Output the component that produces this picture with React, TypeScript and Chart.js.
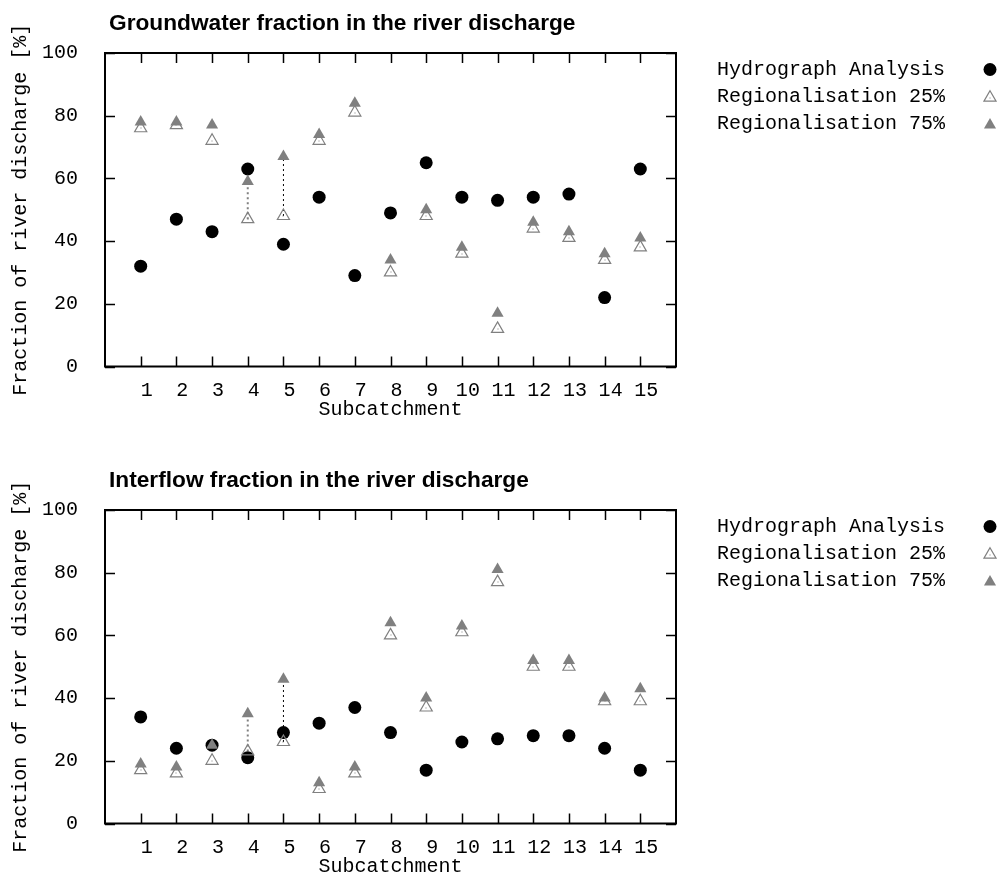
import React, { useEffect, useRef } from 'react';
import { Chart, registerables } from 'chart.js';

Chart.register(...registerables);

// ---------- data ----------
const subcatchments = [1, 2, 3, 4, 5, 6, 7, 8, 9, 10, 11, 12, 13, 14, 15];
const xTickValues = [1, 2, 3, 4, 5, 6, 7, 8, 9, 10, 11, 12, 13, 14, 15];
const yTickValues = [0, 20, 40, 60, 80, 100];
const seriesLabels = ['Hydrograph Analysis', 'Regionalisation 25%', 'Regionalisation 75%'];

const groundwaterTitle = 'Groundwater fraction in the river discharge';
const gwHydrograph = [32, 47, 43, 63, 39, 54, 29, 49, 65, 54, 53, 54, 55, 22, 63];
const gwReg25 = [76, 77, 72, 47, 48, 72, 81, 30, 48, 36, 12, 44, 41, 34, 38];
const gwReg75 = [78, 78, 77, 59, 67, 74, 84, 34, 50, 38, 17, 46, 43, 36, 41];

const interflowTitle = 'Interflow fraction in the river discharge';
const ifHydrograph = [34, 24, 25, 21, 29, 32, 37, 29, 17, 26, 27, 28, 28, 24, 17];
const ifReg25 = [17, 16, 20, 23, 26, 11, 16, 60, 37, 61, 77, 50, 50, 39, 39];
const ifReg75 = [19, 18, 25, 35, 46, 13, 18, 64, 40, 63, 81, 52, 52, 40, 43];

// subcatchments whose 25%-75% range is marked by a dotted line
const rangeCatchments = [4, 5];

// ---------- styling ----------
const MONO = '"Liberation Mono", "Courier New", monospace';
const SANS = '"Liberation Sans", Arial, sans-serif';
const GREY = '#808080';
const rangeLineColors = [GREY, '#000000'];
const rangeLineWidths = [2, 1];

const W = 1002;
const H = 458;

function drawMarker(ctx: CanvasRenderingContext2D, style: string, x: number, y: number, r: number, fill: string | null, stroke: string | null, lw: number) {
  ctx.beginPath();
  if (style === 'circle') {
    ctx.arc(x, y, r, 0, Math.PI * 2);
  } else {
    let rad = 0;
    ctx.moveTo(x + Math.sin(rad) * r, y - Math.cos(rad) * r);
    rad += (2 * Math.PI) / 3;
    ctx.lineTo(x + Math.sin(rad) * r, y - Math.cos(rad) * r);
    rad += (2 * Math.PI) / 3;
    ctx.lineTo(x + Math.sin(rad) * r, y - Math.cos(rad) * r);
    ctx.closePath();
  }
  if (fill) {
    ctx.fillStyle = fill;
    ctx.fill();
  }
  if (stroke && lw > 0) {
    ctx.strokeStyle = stroke;
    ctx.lineWidth = lw;
    ctx.stroke();
  }
}

function makeDecor(title: string) {
  return {
    id: 'decor',
    afterDatasetsDraw(chart: any) {
      // small centre dot of the open triangles (gnuplot style)
      const ctx: CanvasRenderingContext2D = chart.ctx;
      const meta = chart.getDatasetMeta(1);
      ctx.save();
      ctx.fillStyle = GREY;
      for (const el of meta.data) {
        ctx.fillRect(Math.round(el.x) - 0.5, Math.round(el.y) - 0.5, 1, 1);
      }
      ctx.restore();
    },
    afterDraw(chart: any) {
      const ctx: CanvasRenderingContext2D = chart.ctx;
      const { left, right, top, bottom } = chart.chartArea;
      const xs = chart.scales.x;
      const ys = chart.scales.y;
      ctx.save();
      // inward ticks on all four sides
      ctx.strokeStyle = '#000';
      ctx.lineWidth = 1.5;
      ctx.beginPath();
      for (const v of xTickValues) {
        const px = Math.round(xs.getPixelForValue(v)) + 0.5;
        ctx.moveTo(px, bottom);
        ctx.lineTo(px, bottom - 10);
        ctx.moveTo(px, top);
        ctx.lineTo(px, top + 10);
      }
      for (const v of yTickValues) {
        const py = Math.round(ys.getPixelForValue(v)) + 0.5;
        ctx.moveTo(left, py);
        ctx.lineTo(left + 10, py);
        ctx.moveTo(right, py);
        ctx.lineTo(right - 10, py);
      }
      ctx.stroke();
      // border
      ctx.lineWidth = 2;
      ctx.strokeRect(left, top, right - left, bottom - top);
      // title
      ctx.fillStyle = '#000';
      ctx.font = `bold 22.7px ${SANS}`;
      ctx.textAlign = 'left';
      ctx.textBaseline = 'alphabetic';
      ctx.fillText(title, 109, 29.5);
      // legend
      ctx.font = `20px ${MONO}`;
      ctx.textBaseline = 'middle';
      for (let i = 0; i < 3; i++) {
        const ds = chart.data.datasets[i];
        const y = 69.5 + i * 27.2;
        ctx.fillStyle = '#000';
        ctx.fillText(ds.label, 717, y);
        const bg = ds.pointBackgroundColor;
        const mx = 990;
        const my = y + (ds.pointStyle === 'circle' ? 0 : 1);
        drawMarker(ctx, ds.pointStyle, mx, my, ds.pointRadius, bg === 'rgba(0,0,0,0)' ? null : bg, ds.pointBorderColor, ds.pointBorderWidth);
        if (i === 1) {
          ctx.fillStyle = GREY;
          ctx.fillRect(mx - 0.5, Math.round(my) - 0.5, 1, 1);
        }
      }
      ctx.restore();
    },
  };
}

function buildConfig(title: string, hydro: number[], reg25: number[], reg75: number[]): any {
  const toPoints = (vals: number[]) => subcatchments.map((c, i) => ({ x: c, y: vals[i] }));
  const rangeSets = rangeCatchments.map((c, k) => ({
    type: 'line',
    label: `range ${c}`,
    data: [
      { x: c, y: reg25[c - 1] },
      { x: c, y: reg75[c - 1] },
    ],
    showLine: true,
    borderColor: rangeLineColors[k],
    borderWidth: rangeLineWidths[k],
    borderDash: [2, 3],
    pointRadius: 0,
    fill: false,
    order: 10,
  }));
  return {
    type: 'scatter',
    data: {
      datasets: [
        {
          label: seriesLabels[0],
          data: toPoints(hydro),
          pointStyle: 'circle',
          pointRadius: 6.5,
          pointBackgroundColor: '#000000',
          pointBorderColor: '#000000',
          pointBorderWidth: 0,
          order: 3,
        },
        {
          label: seriesLabels[1],
          data: toPoints(reg25),
          pointStyle: 'triangle',
          pointRadius: 7,
          pointBackgroundColor: 'rgba(0,0,0,0)',
          pointBorderColor: GREY,
          pointBorderWidth: 1.2,
          order: 2,
        },
        {
          label: seriesLabels[2],
          data: toPoints(reg75),
          pointStyle: 'triangle',
          pointRadius: 7,
          pointBackgroundColor: GREY,
          pointBorderColor: GREY,
          pointBorderWidth: 0,
          order: 1,
        },
        ...rangeSets,
      ],
    },
    options: {
      animation: false,
      responsive: false,
      events: [],
      layout: { padding: { top: 53, right: W - 676, left: 0, bottom: 0 } },
      plugins: {
        legend: { display: false },
        tooltip: { enabled: false },
        title: { display: false },
      },
      scales: {
        x: {
          type: 'linear',
          position: 'bottom',
          min: 0,
          max: 16,
          afterBuildTicks: (scale: any) => {
            scale.ticks = xTickValues.map((v) => ({ value: v }));
          },
          afterFit: (scale: any) => {
            scale.height = H - 366.5;
          },
          grid: { display: false, drawTicks: false },
          border: { display: false },
          ticks: {
            color: '#000',
            font: { family: MONO, size: 20 },
            padding: 12,
            labelOffset: 6,
            maxRotation: 0,
            autoSkip: false,
          },
          title: {
            display: true,
            text: 'Subcatchment',
            color: '#000',
            font: { family: MONO, size: 20 },
            padding: { top: 0, bottom: 36 },
          },
        },
        y: {
          type: 'linear',
          min: 0,
          max: 100,
          afterBuildTicks: (scale: any) => {
            scale.ticks = yTickValues.map((v) => ({ value: v }));
          },
          afterFit: (scale: any) => {
            scale.width = 105;
          },
          grid: { display: false, drawTicks: false },
          border: { display: false },
          ticks: {
            color: '#000',
            font: { family: MONO, size: 20 },
            padding: 27,
          },
          title: {
            display: true,
            text: 'Fraction of river discharge [%]',
            color: '#000',
            font: { family: MONO, size: 20 },
            padding: { top: 9, bottom: 0 },
          },
        },
      },
    },
    plugins: [makeDecor(title)],
  };
}

function FractionChart(props: { title: string; hydro: number[]; reg25: number[]; reg75: number[]; top: number }) {
  const ref = useRef<HTMLCanvasElement | null>(null);
  useEffect(() => {
    if (!ref.current) return;
    const chart = new Chart(ref.current, buildConfig(props.title, props.hydro, props.reg25, props.reg75));
    return () => chart.destroy();
  }, []);
  return (
    <canvas
      ref={ref}
      width={W}
      height={H}
      style={{ position: 'absolute', left: 0, top: props.top, width: W, height: H, display: 'block' }}
    />
  );
}

export default function App() {
  return (
    <div style={{ position: 'fixed', left: 0, top: 0, width: W, height: 874, overflow: 'hidden', background: '#fff' }}>
      <FractionChart title={groundwaterTitle} hydro={gwHydrograph} reg25={gwReg25} reg75={gwReg75} top={0} />
      <FractionChart title={interflowTitle} hydro={ifHydrograph} reg25={ifReg25} reg75={ifReg75} top={457} />
    </div>
  );
}
